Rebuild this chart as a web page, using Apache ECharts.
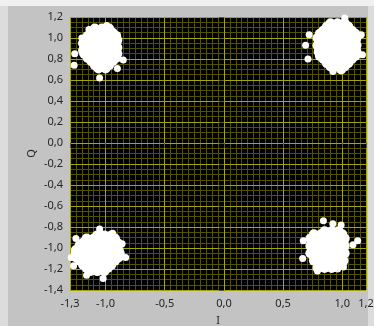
<!DOCTYPE html>
<html><head><meta charset="utf-8">
<script src="https://cdn.jsdelivr.net/npm/echarts@6/dist/echarts.min.js"></script>
<style>html,body{margin:0;padding:0;background:#dcdcdc;}#c{width:374px;height:326px;}</style>
</head><body><div id="c"></div>
<script>
// Axis ticks / labels
const xTickLabels = [-1.3, -1.0, -0.5, 0.0, 0.5, 1.0, 1.2];
const yTickLabels = [-1.4, -1.2, -1.0, -0.8, -0.6, -0.4, -0.2, 0.0, 0.2, 0.4, 0.6, 0.8, 1.0, 1.2];
const xName = 'I';
const yName = 'Q';

// Constellation clusters (I, Q): dense cores
const clusterTopLeft = [
  [-1.09,1.09],[-1.03,1.09],[-0.97,1.09],
  [-1.12,1.05],[-1.06,1.05],[-1.00,1.05],[-0.94,1.05],
  [-1.15,1.02],[-1.09,1.02],[-1.03,1.02],[-0.97,1.02],[-0.91,1.02],
  [-1.18,0.98],[-1.12,0.98],[-1.06,0.98],[-1.00,0.98],[-0.94,0.98],[-0.90,0.98],
  [-1.19,0.95],[-1.15,0.95],[-1.09,0.95],[-1.03,0.95],[-0.97,0.95],[-0.91,0.95],
  [-1.18,0.91],[-1.12,0.91],[-1.06,0.91],[-1.00,0.91],[-0.94,0.91],[-0.90,0.91],
  [-1.19,0.88],[-1.15,0.88],[-1.09,0.88],[-1.03,0.88],[-0.97,0.88],[-0.91,0.88],
  [-1.18,0.85],[-1.12,0.85],[-1.06,0.85],[-1.00,0.85],[-0.94,0.85],[-0.90,0.85],
  [-1.15,0.81],[-1.09,0.81],[-1.03,0.81],[-0.97,0.81],[-0.91,0.81],
  [-1.12,0.78],[-1.06,0.78],[-1.00,0.78],[-0.94,0.78],
  [-1.09,0.74],[-1.03,0.74],[-0.97,0.74],
  [-1.06,0.71],[-1.00,0.71]
];
const clusterTopRight = [
  [0.90,1.14],[0.96,1.14],[1.02,1.14],
  [0.87,1.11],[0.93,1.11],[0.99,1.11],[1.05,1.11],
  [0.84,1.07],[0.90,1.07],[0.96,1.07],[1.02,1.07],[1.08,1.07],
  [0.81,1.04],[0.87,1.04],[0.93,1.04],[0.99,1.04],[1.05,1.04],[1.11,1.04],
  [0.79,1.00],[0.84,1.00],[0.90,1.00],[0.96,1.00],[1.02,1.00],[1.08,1.00],[1.12,1.00],
  [0.81,0.97],[0.87,0.97],[0.93,0.97],[0.99,0.97],[1.05,0.97],[1.11,0.97],
  [0.79,0.93],[0.84,0.93],[0.90,0.93],[0.96,0.93],[1.02,0.93],[1.08,0.93],[1.12,0.93],
  [0.81,0.90],[0.87,0.90],[0.93,0.90],[0.99,0.90],[1.05,0.90],[1.11,0.90],
  [0.80,0.87],[0.84,0.87],[0.90,0.87],[0.96,0.87],[1.02,0.87],[1.08,0.87],[1.12,0.87],
  [0.81,0.83],[0.87,0.83],[0.93,0.83],[0.99,0.83],[1.05,0.83],[1.11,0.83],
  [0.84,0.80],[0.90,0.80],[0.96,0.80],[1.02,0.80],[1.08,0.80],
  [0.87,0.76],[0.93,0.76],[0.99,0.76],[1.05,0.76],
  [0.90,0.73],[0.96,0.73],[1.02,0.73],
  [0.99,0.70]
];
const clusterBottomLeft = [
  [-1.07,-0.88],[-1.01,-0.88],[-0.95,-0.88],
  [-1.16,-0.91],[-1.10,-0.91],[-1.04,-0.91],[-0.98,-0.91],[-0.92,-0.91],
  [-1.19,-0.95],[-1.13,-0.95],[-1.07,-0.95],[-1.01,-0.95],[-0.95,-0.95],[-0.90,-0.95],
  [-1.22,-0.98],[-1.16,-0.98],[-1.10,-0.98],[-1.04,-0.98],[-0.98,-0.98],[-0.92,-0.98],
  [-1.25,-1.02],[-1.19,-1.02],[-1.13,-1.02],[-1.07,-1.02],[-1.01,-1.02],[-0.95,-1.02],[-0.89,-1.02],
  [-1.25,-1.05],[-1.22,-1.05],[-1.16,-1.05],[-1.10,-1.05],[-1.04,-1.05],[-0.98,-1.05],[-0.92,-1.05],[-0.88,-1.05],
  [-1.25,-1.09],[-1.19,-1.09],[-1.13,-1.09],[-1.07,-1.09],[-1.01,-1.09],[-0.95,-1.09],[-0.89,-1.09],
  [-1.22,-1.12],[-1.16,-1.12],[-1.10,-1.12],[-1.04,-1.12],[-0.98,-1.12],[-0.92,-1.12],
  [-1.19,-1.16],[-1.13,-1.16],[-1.07,-1.16],[-1.01,-1.16],[-0.95,-1.16],
  [-1.16,-1.19],[-1.10,-1.19],[-1.04,-1.19],[-0.98,-1.19],
  [-1.13,-1.22],[-1.07,-1.22],[-1.01,-1.22]
];
const clusterBottomRight = [
  [0.85,-0.84],[0.91,-0.84],[0.97,-0.84],
  [0.76,-0.87],[0.82,-0.87],[0.88,-0.87],[0.94,-0.87],[1.00,-0.87],
  [0.73,-0.91],[0.79,-0.91],[0.85,-0.91],[0.91,-0.91],[0.97,-0.91],[1.02,-0.91],
  [0.76,-0.94],[0.82,-0.94],[0.88,-0.94],[0.94,-0.94],[1.00,-0.94],
  [0.73,-0.98],[0.79,-0.98],[0.85,-0.98],[0.91,-0.98],[0.97,-0.98],[1.02,-0.98],
  [0.76,-1.01],[0.82,-1.01],[0.88,-1.01],[0.94,-1.01],[1.00,-1.01],
  [0.73,-1.05],[0.79,-1.05],[0.85,-1.05],[0.91,-1.05],[0.97,-1.05],[1.02,-1.05],
  [0.76,-1.08],[0.82,-1.08],[0.88,-1.08],[0.94,-1.08],[1.00,-1.08],
  [0.76,-1.12],[0.79,-1.12],[0.85,-1.12],[0.91,-1.12],[0.97,-1.12],[1.01,-1.12],
  [0.82,-1.15],[0.88,-1.15],[0.94,-1.15],[0.98,-1.15],
  [0.79,-1.19],[0.85,-1.19],[0.91,-1.19]
];
// Scattered stray points around each cluster
const strayTopLeft = [[-1.14,1.08],[-0.99,1.12],[-1.26,0.85],[-1.265,0.74],[-1.05,0.62],[-0.85,0.79],[-0.90,0.71],[-1.20,1.00]];
const strayTopRight = [[1.02,1.19],[0.72,1.03],[0.69,0.93],[0.71,0.80],[1.17,0.84],[0.92,0.68],[1.16,1.03]];
const strayBottomLeft = [[-1.25,-0.91],[-1.29,-1.09],[-1.02,-1.29],[-1.16,-1.26],[-1.27,-1.17],[-1.05,-0.82],[-0.94,-0.86],[-0.83,-1.09],[-0.86,-0.96]];
const strayBottomRight = [[0.84,-0.74],[0.92,-0.77],[0.99,-0.78],[0.67,-0.93],[0.665,-1.10],[1.13,-0.93],[1.09,-0.97],[0.96,-1.20],[1.01,-1.18],[0.79,-1.22]];

const majorC = '#a3a314';
const minorC = '#525200';
const fmt = v => Number(v).toFixed(1).replace('.', ',');
const font = {color:'#262626', fontFamily:'Noto Sans', fontSize:11};

const chart = echarts.init(document.getElementById('c'), null, {renderer:'canvas'});
const mk = (d, s) => ({type:'scatter', data:d, symbol:'circle', symbolSize:s,
  xAxisIndex:0, yAxisIndex:0,
  itemStyle:{color:'#ffffff', opacity:1}, clip:true, silent:true, z:5});
chart.setOption({
  animation:false,
  backgroundColor:'#dcdcdc',
  graphic:[
    {type:'rect', shape:{x:0,y:0,width:374,height:6}, style:{fill:'#f0f0f0'}, z:-10},
    {type:'rect', shape:{x:8,y:6,width:360,height:320}, style:{fill:'#c3c3c3'}, z:-10}
  ],
  grid:{left:70, top:17, width:296, height:273, show:true, backgroundColor:'#000000', borderWidth:0,
    containLabel:false, outerBoundsMode:'none'},
  xAxis:[
    {type:'value', min:-1.3, max:1.2, interval:0.5, z:2,
      name:xName, nameLocation:'middle', nameGap:25, nameMoveOverlap:false,
      nameTextStyle:font,
      axisLine:{show:false},
      axisTick:{show:true, customValues:xTickLabels, length:5, lineStyle:{color:'#555'}},
      axisLabel:Object.assign({customValues:xTickLabels, formatter:fmt, margin:8}, font),
      splitLine:{show:true, lineStyle:{color:majorC, width:1}}
    },
    {type:'value', min:-1.3, max:1.2, interval:0.05, z:1, show:true,
      axisLine:{show:false}, axisTick:{show:false}, axisLabel:{show:false},
      splitLine:{show:true, lineStyle:{color:minorC, width:1}}
    }
  ],
  yAxis:[
    {type:'value', min:-1.4, max:1.2, interval:0.2, z:2,
      name:yName, nameLocation:'middle', nameGap:33, nameMoveOverlap:false,
      nameTextStyle:font,
      axisLine:{show:false},
      axisTick:{show:true, customValues:yTickLabels, length:5, lineStyle:{color:'#555'}},
      axisLabel:Object.assign({customValues:yTickLabels, formatter:fmt, margin:7}, font),
      splitLine:{show:true, lineStyle:{color:majorC, width:1}}
    },
    {type:'value', min:-1.4, max:1.2, interval:0.05, z:1, show:true,
      axisLine:{show:false}, axisTick:{show:false}, axisLabel:{show:false},
      splitLine:{show:true, lineStyle:{color:minorC, width:1}}
    }
  ],
  series:[
    mk(clusterTopLeft,10), mk(clusterTopRight,10), mk(clusterBottomLeft,10), mk(clusterBottomRight,10),
    mk(strayTopLeft,7), mk(strayTopRight,7), mk(strayBottomLeft,7), mk(strayBottomRight,7)
  ]
});
</script></body></html>
